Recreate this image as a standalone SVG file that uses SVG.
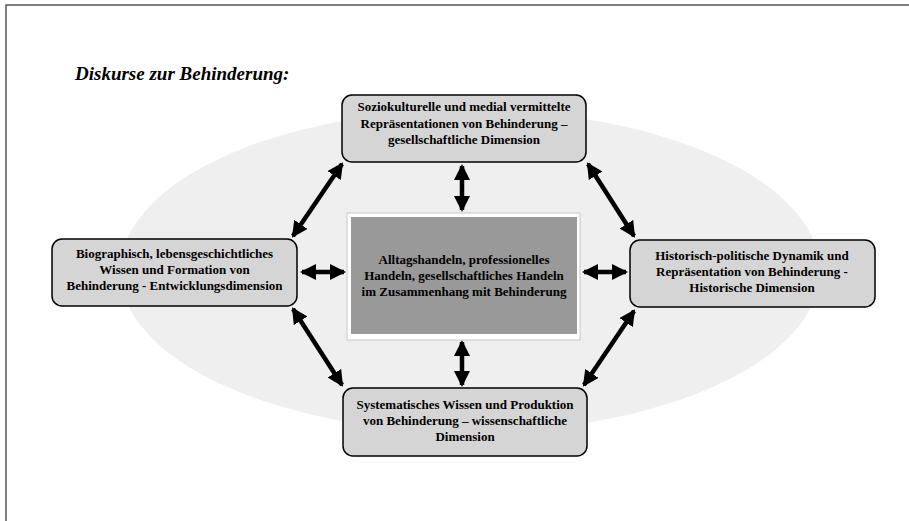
<svg xmlns="http://www.w3.org/2000/svg" width="909" height="521" viewBox="0 0 909 521">
<style>
.box{fill:#d5d5d5;stroke:#000;stroke-width:1.5}
.t{font-family:"Liberation Serif","Times New Roman",serif;font-weight:bold;font-size:13px;fill:#000;text-anchor:middle}
.title{font-family:"Liberation Serif","Times New Roman",serif;font-weight:bold;font-style:italic;font-size:19px;fill:#000}
.arr{stroke:#000;stroke-width:4.5;fill:none;marker-start:url(#ah);marker-end:url(#ah)}
</style>
<defs>
<marker id="ah" viewBox="0 0 16 16" refX="14" refY="8" markerWidth="16" markerHeight="16" markerUnits="userSpaceOnUse" orient="auto-start-reverse">
<path d="M0,0 L16,8 L0,16 Z" fill="#000"/>
</marker>
</defs>
<rect x="0" y="0" width="909" height="521" fill="#fff"/>
<path d="M6,521 V5 H909" fill="none" stroke="#555" stroke-width="1.5"/>
<ellipse cx="470" cy="271" rx="350" ry="161" fill="#efefef"/>
<text class="title" x="75" y="80">Diskurse zur Behinderung:</text>

<g id="connectors">
<line class="arr" x1="462" y1="166" x2="462" y2="210"/>
<line class="arr" x1="462" y1="342" x2="462" y2="385"/>
<line class="arr" x1="302" y1="272" x2="344" y2="272"/>
<line class="arr" x1="584" y1="272" x2="626" y2="272"/>
<line class="arr" x1="293" y1="236" x2="342" y2="164"/>
<line class="arr" x1="588" y1="164" x2="634" y2="236"/>
<line class="arr" x1="293" y1="309" x2="342" y2="385"/>
<line class="arr" x1="634" y1="311" x2="584" y2="385"/>
</g>

<g id="node-top">
<rect class="box" x="342" y="95" width="244" height="67" rx="10"/>
<text class="t" x="464" y="111">Soziokulturelle und medial vermittelte</text>
<text class="t" x="464" y="128">Repräsentationen von Behinderung –</text>
<text class="t" x="464" y="144">gesellschaftliche Dimension</text>
</g>

<g id="node-left">
<rect class="box" x="52" y="239" width="245" height="67" rx="10"/>
<text class="t" x="174.5" y="258">Biographisch, lebensgeschichtliches</text>
<text class="t" x="174.5" y="274">Wissen und Formation von</text>
<text class="t" x="174.5" y="290">Behinderung - Entwicklungsdimension</text>
</g>

<g id="node-right">
<rect class="box" x="630" y="240" width="245" height="67" rx="10"/>
<text class="t" x="752" y="260">Historisch-politische Dynamik und</text>
<text class="t" x="752" y="276">Repräsentation von Behinderung  -</text>
<text class="t" x="752" y="292">Historische Dimension</text>
</g>

<g id="node-bottom">
<rect class="box" x="343" y="388" width="244" height="68" rx="10"/>
<text class="t" x="465" y="409">Systematisches Wissen und  Produktion</text>
<text class="t" x="465" y="425">von Behinderung – wissenschaftliche</text>
<text class="t" x="465" y="441">Dimension</text>
</g>

<g id="node-center">
<rect x="347" y="213" width="233" height="127" fill="#fff" stroke="#c8c8c8" stroke-width="1"/>
<rect x="351" y="217" width="226" height="117" fill="#999"/>
<text class="t" x="464" y="264">Alltagshandeln, professionelles</text>
<text class="t" x="464" y="280">Handeln, gesellschaftliches Handeln</text>
<text class="t" x="464" y="296">im Zusammenhang mit Behinderung</text>
</g>
</svg>
